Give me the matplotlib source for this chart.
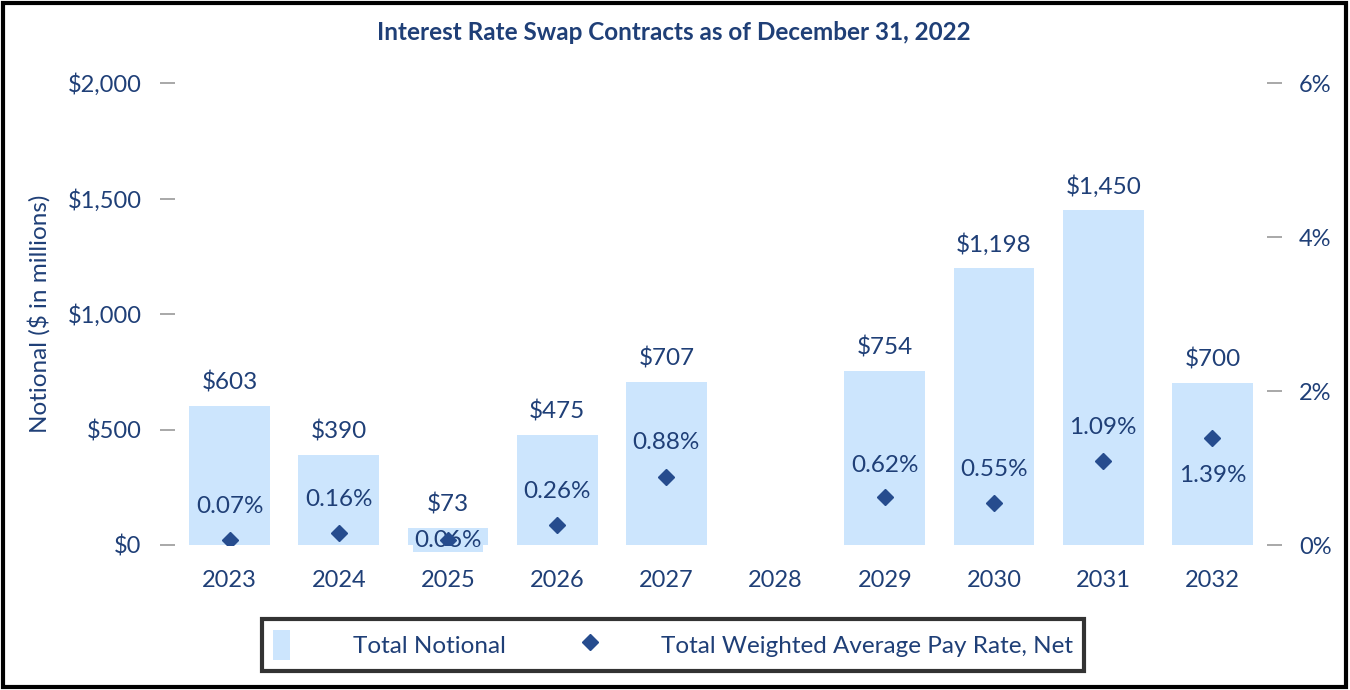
import numpy as np
import matplotlib
matplotlib.use('Agg')
import matplotlib.pyplot as plt
from matplotlib.patches import Rectangle, Patch
from matplotlib.lines import Line2D
from matplotlib.ticker import FuncFormatter

plt.rcParams['font.family'] = ['Lato', 'DejaVu Sans']

# data
years = ['2023', '2024', '2025', '2026', '2027', '2028', '2029', '2030', '2031', '2032']
notional = [603, 390, 73, 475, 707, np.nan, 754, 1198, 1450, 700]
pay_rate = [0.07, 0.16, 0.06, 0.26, 0.88, np.nan, 0.62, 0.55, 1.09, 1.39]

# label offsets (points) for the rate labels, relative to the diamond
rate_label_dy = [24, 24, 0, 24, 25, 0, 23, 24, 24, -27]

text_col = '#1F3F77'
bar_col = '#CCE5FD'
dot_col = '#264C8E'
fs = 17

fig = plt.figure(figsize=(13.5, 6.9), dpi=100)
ax = fig.add_axes([175 / 1350, 1 - 545 / 690, 1092 / 1350, 462 / 690])
ax2 = ax.twinx()

x = np.arange(len(years))
ax.bar(x, notional, width=0.74, color=bar_col, zorder=1)
ax.set_xlim(-0.5, len(years) - 0.5)
ax.set_ylim(0, 2000)
ax.set_yticks([0, 500, 1000, 1500, 2000])
ax.yaxis.set_major_formatter(FuncFormatter(lambda v, p: f'${v:,.0f}'))
ax.set_xticks(x)
ax.set_xticklabels(years)
ax.set_ylabel('Notional ($ in millions)', fontsize=17.5, color=text_col, labelpad=12)

ax2.set_ylim(0, 6)
ax2.set_yticks([0, 2, 4, 6])
ax2.yaxis.set_major_formatter(FuncFormatter(lambda v, p: f'{v:.0f}%'))
ax2.plot(x, pay_rate, linestyle='none', marker='D', markersize=8, color=dot_col, zorder=3)

for a in (ax, ax2):
    for s in a.spines.values():
        s.set_visible(False)
ax.tick_params(axis='x', length=0, labelsize=fs, labelcolor=text_col, pad=18)
ax.tick_params(axis='y', length=11, width=1.2, color='#999999', labelsize=fs,
               labelcolor=text_col, pad=13, direction='out')
ax2.tick_params(axis='y', length=11, width=1.2, color='#999999', labelsize=fs,
                labelcolor=text_col, pad=12, direction='out')

# bar value labels
for xi, v in zip(x, notional):
    if np.isnan(v):
        continue
    ax.annotate(f'${v:,.0f}', (xi, v), xytext=(0, 17), textcoords='offset points',
                ha='center', va='center', fontsize=17.5, color=text_col)

# rate labels
for xi, r, dy in zip(x, pay_rate, rate_label_dy):
    if np.isnan(r):
        continue
    ax2.annotate(f'{r:.2f}%', (xi, r), xytext=(0, dy), textcoords='offset points',
                 ha='center', va='center', fontsize=17.5, color=text_col, zorder=2,
                 bbox=dict(boxstyle='square,pad=0.05', fc=bar_col, ec='none'))

fig.text(0.499, 1 - 33 / 690, 'Interest Rate Swap Contracts as of December 31, 2022',
         ha='center', va='center', fontsize=17.5, fontweight='bold', color=text_col)

handles = [Patch(facecolor=bar_col, edgecolor='none'),
           Line2D([], [], linestyle='none', marker='D', markersize=8, color=dot_col)]
leg = fig.legend(handles, ['Total Notional', 'Total Weighted Average Pay Rate, Net'],
                 loc='center', bbox_to_anchor=(673 / 1350, 1 - 645 / 690), ncol=2,
                 fontsize=17.5, frameon=True, fancybox=False, handlelength=0.7,
                 handleheight=1.5, handletextpad=2.6, columnspacing=3.1,
                 borderpad=0.45, borderaxespad=0)
leg.get_frame().set_edgecolor('black')
leg.get_frame().set_linewidth(3)
for t in leg.get_texts():
    t.set_color(text_col)

fig.patches.append(Rectangle((0.002, 0.004), 0.995, 0.992, transform=fig.transFigure,
                             fill=False, edgecolor='black', linewidth=3))

plt.savefig('out.png', dpi=100)
